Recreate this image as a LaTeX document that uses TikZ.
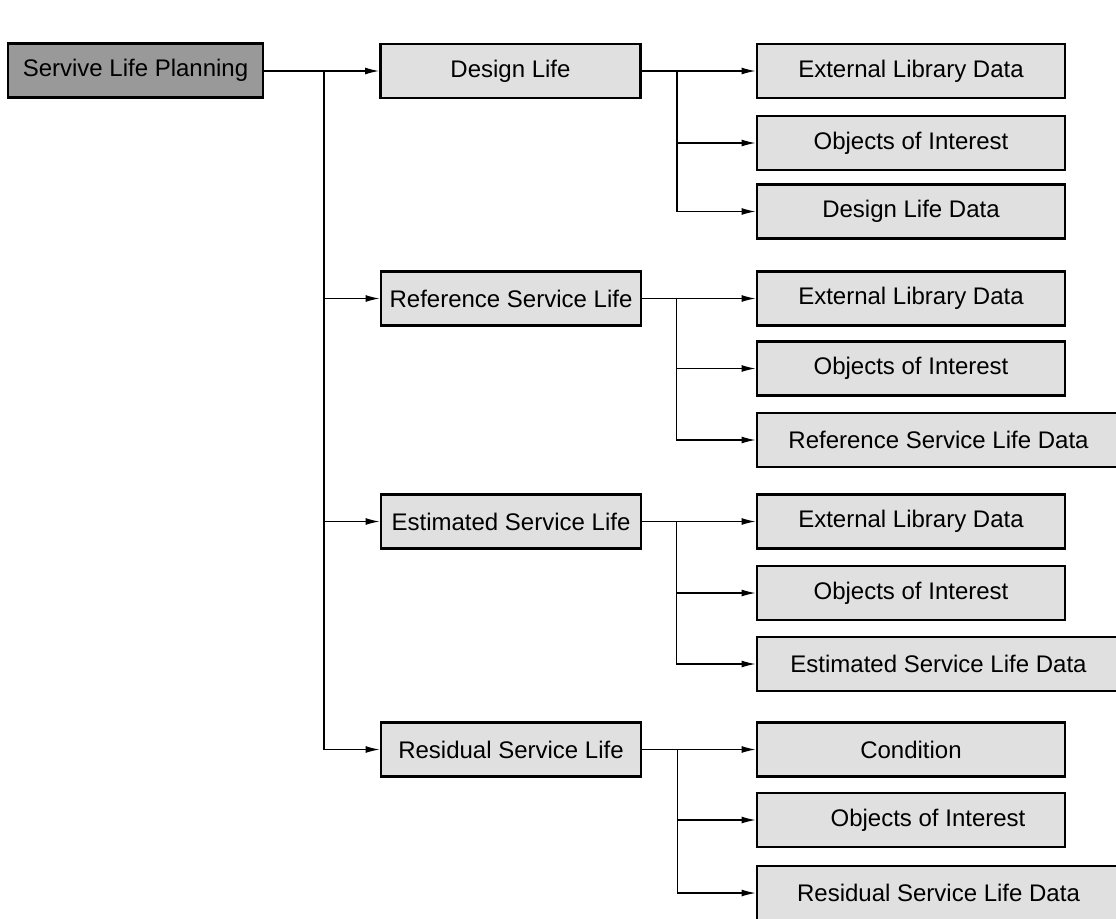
\documentclass[tikz,border=0pt]{standalone}
\usepackage{fontspec}
\setmainfont{Liberation Sans}
\usetikzlibrary{arrows.meta}

\definecolor{boxgray}{HTML}{E0E0E0}
\definecolor{plangray}{HTML}{999999}

\tikzset{
  box/.style={draw, line width=2.8pt, fill=boxgray, minimum height=54pt,
    inner sep=0pt, font=\fontsize{24}{28}\selectfont},
  planbox/.style={box, fill=plangray, minimum width=255pt},
  lifebox/.style={box, minimum width=260pt},
  databox/.style={box, minimum width=308pt},
  longbox/.style={box, minimum width=363pt},
  link/.style={line width=1.3pt, -{Latex[length=14pt,width=7pt]}},
}

\begin{document}
\begin{tikzpicture}[x=1pt,y=-1pt]
\clip (0,0) rectangle (1116,918);

\node[planbox] (plan) at (135.5,70.5) {Servive Life Planning};

\node[lifebox] (design) at (510.5,71) {Design Life};
\node[lifebox] (ref) at (511,298.5) {Reference Service Life};
\node[lifebox] (est) at (511,521.5) {Estimated Service Life};
\node[lifebox] (res) at (511,749.5) {Residual Service Life};

\node[databox] (ext1) at (911,71) {External Library Data};
\node[databox] (ooi1) at (911,143) {Objects of Interest};
\node[databox] (dld) at (911,211.5) {Design Life Data};

\node[databox] (ext2) at (911,298.5) {External Library Data};
\node[databox] (ooi2) at (911,368.5) {Objects of Interest};
\node[longbox] (rsld) at (938.5,440) {Reference Service Life Data};

\node[databox] (ext3) at (911,521.5) {External Library Data};
\node[databox] (ooi3) at (911,593) {Objects of Interest};
\node[longbox] (esld) at (938.5,664) {Estimated Service Life Data};

\node[databox] (cond) at (911,749.5) {Condition};
\node[databox] (ooi4) at (911,820) {\hspace*{34pt}Objects of Interest};
\node[longbox] (resd) at (938.5,893) {Residual Service Life Data};

% main trunk
\coordinate (trunk) at (324,71);
\draw[link] (plan.east |- design.west) -- (design.west);
\draw[link] (trunk) |- (ref.west);
\draw[link] (trunk) |- (est.west);
\draw[link] (trunk) |- (res.west);

% design life
\coordinate (fork1) at ([xshift=35pt]design.east);
\draw[link] (design.east) -- (ext1.west);
\draw[link] (fork1) |- (ooi1.west);
\draw[link] (fork1) |- (dld.west);

% reference service life
\coordinate (fork2) at ([xshift=34pt]ref.east);
\draw[link] (ref.east) -- (ext2.west);
\draw[link] (fork2) |- (ooi2.west);
\draw[link] (fork2) |- (rsld.west);

% estimated service life
\coordinate (fork3) at ([xshift=34pt]est.east);
\draw[link] (est.east) -- (ext3.west);
\draw[link] (fork3) |- (ooi3.west);
\draw[link] (fork3) |- (esld.west);

% residual service life
\coordinate (fork4) at ([xshift=35pt]res.east);
\draw[link] (res.east) -- (cond.west);
\draw[link] (fork4) |- (ooi4.west);
\draw[link] (fork4) |- (resd.west);
\end{tikzpicture}
\end{document}
